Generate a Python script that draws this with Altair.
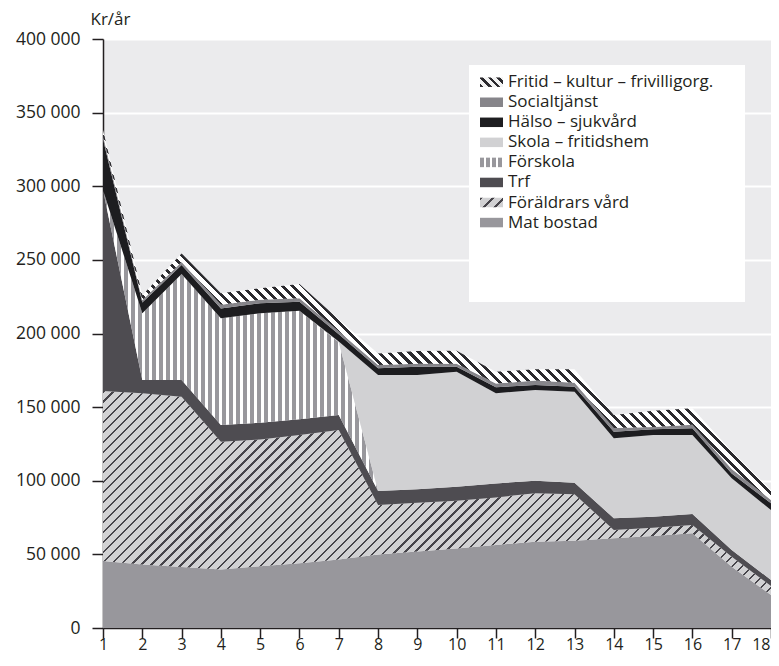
import math
import altair as alt
import pandas as pd

# ---------------- data (kr per year, by age) ----------------
ages = list(range(1, 19))
series_names = [
    "Mat bostad",
    "Föräldrars vård",
    "Trf",
    "Förskola",
    "Skola – fritidshem",
    "Hälso – sjukvård",
    "Socialtjänst",
    "Fritid – kultur – frivilligorg.",
]
mat_bostad = [45500, 43200, 41500, 39800, 42000, 44000, 46500, 50000, 52000, 54000, 56400, 58600, 59300, 60900, 62500, 64300, 41600, 22400]
foraldrars_vard = [115500, 116200, 115500, 86700, 86000, 87000, 88000, 33500, 33100, 32500, 32300, 32900, 31500, 5700, 5600, 5700, 6800, 6100]
trf = [136500, 9000, 11400, 11400, 11400, 10700, 10200, 9500, 9100, 9500, 9500, 8500, 7900, 7900, 7500, 7400, 4600, 4100]
forskola = [0, 45300, 72000, 72400, 74300, 73800, 49300, 0, 0, 0, 0, 0, 0, 0, 0, 0, 0, 0]
skola = [0, 0, 0, 0, 0, 0, 500, 78800, 77600, 78100, 61200, 61600, 61800, 54300, 55500, 53700, 48700, 47500]
halso = [34500, 7300, 6100, 6700, 6800, 6100, 5000, 4600, 5700, 3400, 4100, 3400, 3400, 4500, 3800, 4500, 3300, 4600]
socialtjanst = [2500, 1500, 2000, 2500, 2500, 2300, 2000, 2200, 2000, 2000, 2500, 3000, 2600, 2500, 1600, 2500, 3000, 2300]
fritid = [3700, 3500, 5900, 7800, 7700, 9700, 8000, 7900, 8600, 8800, 8100, 7700, 9200, 8900, 11100, 11200, 12000, 6700]

y_ticks = [0, 50000, 100000, 150000, 200000, 250000, 300000, 350000, 400000]
x_ticks = ages
y_title = "Kr/år"

all_values = [mat_bostad, foraldrars_vard, trf, forskola, skola, halso, socialtjanst, fritid]

rows = []
for order, (name, vals) in enumerate(zip(series_names, all_values)):
    for a, v in zip(ages, vals):
        rows.append({"age": a, "serie": name, "order": order, "value": v})
df = pd.DataFrame(rows)

# ---------------- styling ----------------
PW, PH = 668, 589
YMAX = 400000
FONT = "Open Sans"
INK = "#231f20"

C_MAT = "#98979c"
C_TRF = "#4e4c51"
C_SKOLA = "#d1d1d3"
C_HALSO = "#1d1d20"
C_SOCIAL = "#86858a"
C_HATCH_BG = "#d1d1d3"
C_HATCH_LINE = "#46444a"
C_FRITID_LINE = "#2b2a2e"


def stripe_stops(c_a, c_b, a_px, period_px, length_px):
    stops = []
    pos = 0.0
    while pos < length_px - 1e-9:
        o0 = pos / length_px
        o1 = min((pos + a_px) / length_px, 1.0)
        o2 = min((pos + period_px) / length_px, 1.0)
        stops += [
            alt.GradientStop(offset=round(o0, 6), color=c_a),
            alt.GradientStop(offset=round(o1, 6), color=c_a),
            alt.GradientStop(offset=round(o1, 6), color=c_b),
            alt.GradientStop(offset=round(o2, 6), color=c_b),
        ]
        pos += period_px
    return stops


def vertical_stripes(c_a, c_b, a_px, period_px, w_px):
    return alt.LinearGradient(
        gradient="linear",
        stops=stripe_stops(c_a, c_b, a_px, period_px, w_px),
        x1=0, y1=0, x2=1, y2=0,
    )


def diagonal_stripes(c_a, c_b, a_px, period_px, w_px, h_px, rising=True):
    r = h_px / w_px
    k = (1 + r) / (1 + r * r)
    length = (w_px + h_px) / math.sqrt(2)
    stops = stripe_stops(c_a, c_b, a_px, period_px, length)
    if rising:
        return alt.LinearGradient(gradient="linear", stops=stops,
                                  x1=0, y1=0, x2=round(k, 6), y2=round(k * r, 6))
    return alt.LinearGradient(gradient="linear", stops=stops,
                              x1=0, y1=1, x2=round(k, 6), y2=round(1 - k * r, 6))


# bounding boxes (px) of hatched areas
cum = [[0] * len(ages)]
for vals in all_values:
    cum.append([c + v for c, v in zip(cum[-1], vals)])
foral_h = (max(cum[2]) - min(cum[1])) / YMAX * PH
fritid_h = (max(cum[8]) - min(cum[7])) / YMAX * PH

fills = {
    "Mat bostad": C_MAT,
    "Föräldrars vård": diagonal_stripes(C_HATCH_LINE, C_HATCH_BG, 1.6, 7.1, PW, foral_h, rising=True),
    "Trf": C_TRF,
    "Förskola": vertical_stripes(C_MAT, "#ffffff", 4.3, 7.0, PW),
    "Skola – fritidshem": C_SKOLA,
    "Hälso – sjukvård": C_HALSO,
    "Socialtjänst": C_SOCIAL,
    "Fritid – kultur – frivilligorg.": diagonal_stripes(C_FRITID_LINE, "#ffffff", 2.9, 7.1, PW, fritid_h, rising=False),
}

SW, SH = 23, 9.5
legend_fills = {
    "Mat bostad": C_MAT,
    "Föräldrars vård": diagonal_stripes(C_HATCH_LINE, C_HATCH_BG, 2.2, 8.0, SW, SH, rising=True),
    "Trf": C_TRF,
    "Förskola": vertical_stripes(C_MAT, "#ffffff", 4.0, 6.0, SW),
    "Skola – fritidshem": C_SKOLA,
    "Hälso – sjukvård": C_HALSO,
    "Socialtjänst": C_SOCIAL,
    "Fritid – kultur – frivilligorg.": diagonal_stripes(C_FRITID_LINE, "#f2f2f2", 2.6, 6.0, SW, SH, rising=False),
}

x_enc = alt.X(
    "age:Q",
    scale=alt.Scale(domain=[1, 18], nice=False, zero=False),
    axis=alt.Axis(
        values=x_ticks, format="d", title=None, grid=False,
        tickSize=10, tickWidth=1.5, tickColor=INK,
        domainColor=INK, domainWidth=1.5,
        labelFont=FONT, labelFontSize=16, labelColor=INK,
        labelBaseline="alphabetic", labelPadding=11,
        labelFlush=False, labelOverlap=False,
        labelAlign={"condition": {"test": "datum.value == 18", "value": "right"}, "value": "center"},
        labelOffset={"condition": {"test": "datum.value == 18", "value": -1}, "value": 0},
    ),
)
y_enc = alt.Y(
    "y0:Q",
    scale=alt.Scale(domain=[0, YMAX], nice=False, zero=True),
    axis=alt.Axis(
        values=y_ticks,
        labelExpr="replace(format(datum.value, ','), ',', ' ')",
        title=y_title, titleAngle=0, titleAlign="left", titleBaseline="middle",
        titleX=-13, titleY=-20, titleFont=FONT, titleFontSize=17,
        titleFontWeight="normal", titleColor=INK,
        grid=True, gridColor="#ffffff", gridWidth=2,
        tickSize=11, tickWidth=1.5, tickColor=INK,
        domainColor=INK, domainWidth=1.5,
        labelFont=FONT, labelFontSize=17.5, labelColor=INK, labelPadding=12,
        labelFlush=False, labelOverlap=False,
    ),
)

base = alt.Chart(df).transform_stack(
    stack="value", groupby=["age"], as_=["y0", "y1"],
    sort=[alt.SortField("order", order="ascending")],
)

layers = []
for name in series_names:
    layers.append(
        base.transform_filter(alt.datum.serie == name)
        .mark_area(fill=fills[name], interpolate="linear", strokeWidth=0)
        .encode(x=x_enc, y=y_enc, y2="y1:Q")
    )

# legend box
one = pd.DataFrame({"k": [0]})
layers.append(
    alt.Chart(one).mark_rect(fill="#ffffff").encode(
        x=alt.value(366), x2=alt.value(642), y=alt.value(26), y2=alt.value(263)
    )
)
for i, name in enumerate(reversed(series_names)):
    cy = 43.2 + 20.05 * i
    layers.append(
        alt.Chart(one).mark_rect(fill=legend_fills[name]).encode(
            x=alt.value(377), x2=alt.value(377 + SW),
            y=alt.value(cy - SH / 2), y2=alt.value(cy + SH / 2),
        )
    )
    layers.append(
        alt.Chart(pd.DataFrame({"label": [name]})).mark_text(
            align="left", baseline="middle", font=FONT, fontSize=17, color=INK
        ).encode(x=alt.value(405), y=alt.value(cy), text="label:N")
    )

chart = (
    alt.layer(*layers)
    .properties(
        width=PW, height=PH,
        autosize=alt.AutoSizeParams(type="none"),
        padding={"left": 95, "top": 31, "right": 0, "bottom": 25},
    )
    .configure_view(fill="#ebebed", strokeWidth=0)
)

chart.save("out.html", embed_options={"renderer": "svg", "actions": False})
